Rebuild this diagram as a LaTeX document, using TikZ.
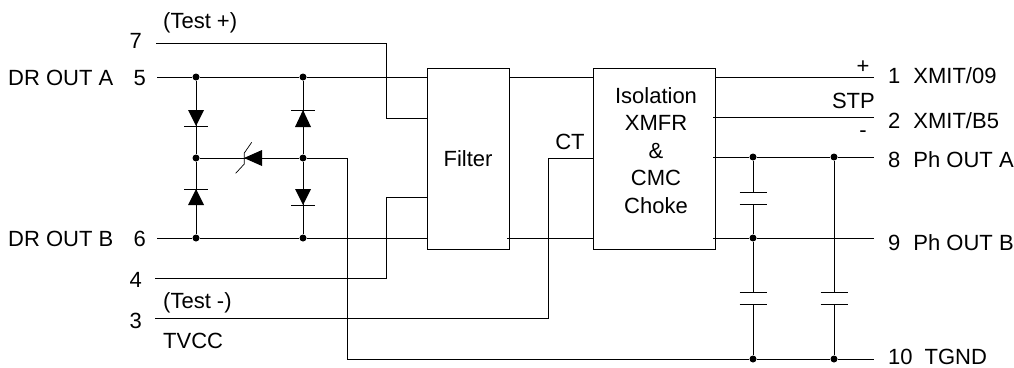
\documentclass[tikz,border=0pt]{standalone}
\usepackage{fontspec}
\setmainfont{Liberation Sans}
\tikzset{
  dotnode/.style={circle, fill=black, inner sep=0pt, minimum size=7pt},
  boxnode/.style={draw, line width=0.8pt, inner sep=0pt, align=center, font=\fontsize{22}{27.5}\selectfont},
  lbl/.style={inner sep=0pt, anchor=base west, font=\fontsize{22}{26}\selectfont},
  wire/.style={line width=0.8pt}
}

\begin{document}
\begin{tikzpicture}[x=1pt, y=-1pt]
        \useasboundingbox (0,0) rectangle (1014,367);
        % blocks
        \node[boxnode, minimum width=82pt, minimum height=181pt] (filter) at (468,158.5) {Filter};
        \node[boxnode, minimum width=122pt, minimum height=181pt] (iso) at (654,159) {};
        \node[boxnode, draw=none, anchor=north] (isotext) at (656,87) {Isolation\\XMFR\\\&\\CMC\\Choke};
        % junctions
        \foreach \n/\x/\y in {a1/196/77, a2/196/158, a3/196/238, b1/303/77, b2/303/158, b3/303/238,
                              c1/753/157, c2/753/238, c3/753/359, d1/834/157, d3/834/359} {
            \node[dotnode] (\n) at (\x,\y) {};
        }
        % free ends of the wires
        \coordinate (p7) at (156,43);
        \coordinate (p5) at (157,77);
        \coordinate (p6) at (157,238);
        \coordinate (p4) at (155,278);
        \coordinate (p3) at (155,318);
        \coordinate (q1) at (874,77);
        \coordinate (q2) at (874,117);
        \coordinate (q8) at (874,157);
        \coordinate (q9) at (874,238);
        \coordinate (q10) at (874,359);
        \coordinate (t7) at (386,118);
        \coordinate (t4) at (386,197);
        \coordinate (ct) at (548,158);
        \coordinate (gnd) at (347,359);
        % left side wires
        \draw[wire] (p7) -- (p7 -| t7) -- (t7) -- (filter.west |- t7);
        \draw[wire] (p5) -- (a1) -- (b1) -- (filter.west |- b1);
        \draw[wire] (p6) -- (a3) -- (b3) -- (filter.west |- b3);
        \draw[wire] (p4) -- (p4 -| t4) -- (t4) -- (filter.west |- t4);
        \draw[wire] (p3) -- (p3 -| ct) -- (ct) -- (iso.west |- ct);
        \draw[wire] (a1) -- (a2) -- (a3);
        \draw[wire] (b1) -- (b2) -- (b3);
        \draw[wire] (a2) -- (b2);
        \draw[wire] (b2) -- (b2 -| gnd) -- (gnd) -- (c3) -- (d3) -- (q10);
        \draw[wire] (filter.east |- b1) -- (iso.west |- b1);
        \draw[wire] ([xshift=-2pt]filter.east |- b3) -- (iso.west |- b3);
        % right side wires
        \draw[wire] (iso.east |- q1) -- (q1);
        \draw[wire] ([xshift=-2pt]iso.east |- q2) -- (q2);
        \draw[wire] ([xshift=-2pt]iso.east |- c1) -- (c1) -- (d1) -- (q8);
        \draw[wire] ([xshift=-2pt]iso.east |- c2) -- (c2) -- (q9);
        % capacitors
        \foreach \n/\m/\p in {c1/c2/192, c2/c3/292, d1/d3/292} {
            \draw[wire] (\n) -- (\n |- 0,\p);
            \draw[wire] (\n |- 0,\p+12) -- (\m);
            \draw[wire] ([xshift=-13.5pt]\n |- 0,\p) -- ([xshift=13.5pt]\n |- 0,\p);
            \draw[wire] ([xshift=-13.5pt]\n |- 0,\p+12) -- ([xshift=13.5pt]\n |- 0,\p+12);
        }
        % diodes
        \foreach \n/\t/\b in {a1/110/126, a3/205/189, b1/127/110, b3/189/205} {
            \fill (\n |- 0,\t) ++(-8,0) -- ++(16,0) -- (\n |- 0,\b) -- cycle;
            \draw[wire] ([xshift=-12pt]\n |- 0,\b) -- ([xshift=12pt]\n |- 0,\b);
        }
        % zener
        \fill (262,150) -- (262,166) -- (244,158) -- cycle;
        \draw[line width=0.7pt] (251.7,142.3) -- (244.3,153) -- (244.3,164) -- (235.7,173.3);
        % labels
        \node[lbl] (l7a) at (163,28) {(Test +)};
        \node[lbl, anchor=base east] (l7) at (142,48) {7};
        \node[lbl] (l5a) at (8,85) {DR OUT A};
        \node[lbl, anchor=base east] (l5) at (146,85) {5};
        \node[lbl] (l6a) at (8,246) {DR OUT B};
        \node[lbl, anchor=base east] (l6) at (146,246) {6};
        \node[lbl, anchor=base east] (l4) at (142,287) {4};
        \node[lbl] (l3a) at (163,308) {(Test -)};
        \node[lbl, anchor=base east] (l3) at (142,328) {3};
        \node[lbl] (ltv) at (163,348) {TVCC};
        \node[lbl, anchor=base] (lct) at (570,149) {CT};
        \node[lbl, anchor=center] (lp) at (863,67) {+};
        \node[lbl, anchor=base east] (lstp) at (875,108) {STP};
        \node[lbl, anchor=center] (lm) at (863,134) {-};
        \node[lbl] (r1) at (888,83) {1\hspace{13pt}XMIT/09};
        \node[lbl] (r2) at (888,128) {2\hspace{13pt}XMIT/B5};
        \node[lbl] (r8) at (888,167) {8\hspace{13pt}Ph OUT A};
        \node[lbl] (r9) at (888,250) {9\hspace{13pt}Ph OUT B};
        \node[lbl] (r10) at (888,364) {10\hspace{12pt}TGND};
    \end{tikzpicture}
\end{document}
